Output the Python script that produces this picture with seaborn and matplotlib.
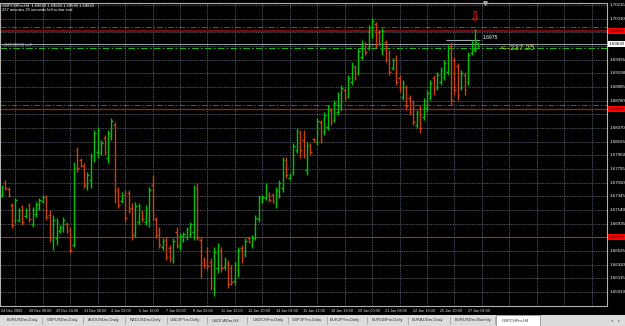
import matplotlib
matplotlib.use("Agg")
import matplotlib.pyplot as plt
import matplotlib.transforms as mtransforms
from matplotlib.patches import Rectangle
from matplotlib.lines import Line2D
import numpy as np
import pandas as pd
import seaborn as sns

# ---------------- data (GBPCHFm, H4) ----------------
bar_open = [1.67365, 1.67560, 1.67455, 1.67215, 1.66975, 1.66990, 1.67185, 1.67050, 1.67215, 1.66930,
            1.67080, 1.67170, 1.67275, 1.67335, 1.67065, 1.66690, 1.66720, 1.66825, 1.66855, 1.66930,
            1.66840, 1.66615, 1.68040, 1.67890, 1.67800, 1.67485, 1.67590, 1.67920, 1.68010, 1.68010,
            1.68220, 1.67920, 1.68250, 1.68415, 1.67440, 1.67275, 1.67365, 1.67395, 1.67170, 1.66795,
            1.66960, 1.67110, 1.66960, 1.66990, 1.67515, 1.67005, 1.66840, 1.66585, 1.66690, 1.66570,
            1.66405, 1.66810, 1.66600, 1.66690, 1.66735, 1.66780, 1.66810, 1.67470, 1.66690, 1.66405,
            1.66510, 1.66360, 1.65970, 1.66270, 1.66540, 1.66285, 1.66345, 1.66270, 1.66075, 1.66240,
            1.66570, 1.66480, 1.66720, 1.66615, 1.66735, 1.67005, 1.67275, 1.67320, 1.67380, 1.67365,
            1.67245, 1.67365, 1.67470, 1.67890, 1.67620, 1.67710, 1.68040, 1.68295, 1.68190, 1.67740,
            1.68115, 1.68205, 1.68160, 1.68460, 1.68310, 1.68385, 1.68640, 1.68490, 1.68610, 1.68685,
            1.68940, 1.68850, 1.69060, 1.69285, 1.69195, 1.69435, 1.69630, 1.69570, 1.69765, 1.69930,
            1.69810, 1.69540, 1.69660, 1.69495, 1.69270, 1.69420, 1.69120, 1.68835, 1.68985, 1.68820,
            1.68745, 1.68415, 1.68670, 1.68535, 1.68670, 1.68835, 1.69120, 1.68970, 1.69060, 1.69135,
            1.69210, 1.69600, 1.69390, 1.69300, 1.68970, 1.69165, 1.69060, 1.69495, 1.69540, 1.69630]
bar_high = [1.67515, 1.67590, 1.67485, 1.67245, 1.67320, 1.67170, 1.67215, 1.67170, 1.67245, 1.67185,
            1.67260, 1.67320, 1.67365, 1.67365, 1.67140, 1.67065, 1.67020, 1.66915, 1.67035, 1.66960,
            1.66885, 1.67860, 1.68085, 1.67920, 1.67845, 1.67710, 1.67995, 1.68340, 1.68385, 1.68190,
            1.68265, 1.68340, 1.68520, 1.68460, 1.67485, 1.67410, 1.67440, 1.67440, 1.67245, 1.67260,
            1.67245, 1.67140, 1.67215, 1.67485, 1.67665, 1.67035, 1.66885, 1.66720, 1.66735, 1.66615,
            1.66720, 1.66885, 1.66795, 1.66810, 1.66885, 1.66960, 1.67515, 1.67545, 1.66735, 1.66435,
            1.66585, 1.66420, 1.66585, 1.66645, 1.66585, 1.66435, 1.66390, 1.66315, 1.66360, 1.66585,
            1.66615, 1.66720, 1.66735, 1.66765, 1.67065, 1.67365, 1.67365, 1.67545, 1.67410, 1.67395,
            1.67485, 1.67590, 1.67935, 1.67935, 1.67695, 1.68145, 1.68370, 1.68340, 1.68340, 1.68160,
            1.68145, 1.68220, 1.68520, 1.68490, 1.68610, 1.68715, 1.68670, 1.68790, 1.68910, 1.69015,
            1.68970, 1.69165, 1.69360, 1.69315, 1.69570, 1.69690, 1.69660, 1.69915, 1.70020, 1.69960,
            1.69840, 1.69870, 1.69690, 1.69540, 1.69420, 1.69465, 1.69165, 1.69090, 1.69015, 1.68865,
            1.68790, 1.68640, 1.68715, 1.68820, 1.68940, 1.69090, 1.69165, 1.69210, 1.69285, 1.69390,
            1.69615, 1.69660, 1.69435, 1.69345, 1.69240, 1.69210, 1.69510, 1.69690, 1.69855, 1.69660]
bar_low = [1.67335, 1.67440, 1.67335, 1.66870, 1.66945, 1.66960, 1.66915, 1.67020, 1.66960, 1.66885,
           1.67035, 1.67140, 1.67245, 1.66990, 1.66660, 1.66540, 1.66615, 1.66795, 1.66810, 1.66795,
           1.66495, 1.66585, 1.67710, 1.67785, 1.67470, 1.67440, 1.67470, 1.67860, 1.67920, 1.67965,
           1.67965, 1.67845, 1.68190, 1.67245, 1.67170, 1.67245, 1.66960, 1.67095, 1.66690, 1.66735,
           1.66915, 1.66960, 1.66915, 1.66885, 1.66990, 1.66720, 1.66570, 1.66540, 1.66390, 1.66360,
           1.66345, 1.66570, 1.66540, 1.66660, 1.66690, 1.66735, 1.66690, 1.66690, 1.66120, 1.66270,
           1.66240, 1.65940, 1.65850, 1.66195, 1.66210, 1.66240, 1.65970, 1.66015, 1.66015, 1.66135,
           1.66345, 1.66435, 1.66645, 1.66570, 1.66690, 1.66960, 1.67245, 1.67290, 1.67260, 1.67245,
           1.67170, 1.67320, 1.67410, 1.67620, 1.67590, 1.67665, 1.67995, 1.67920, 1.67920, 1.67665,
           1.67965, 1.68160, 1.68115, 1.68145, 1.68265, 1.68340, 1.68415, 1.68460, 1.68565, 1.68640,
           1.68790, 1.68820, 1.69015, 1.69090, 1.69165, 1.69390, 1.69465, 1.69540, 1.69720, 1.69570,
           1.69615, 1.69465, 1.69360, 1.69165, 1.69240, 1.69015, 1.68910, 1.68790, 1.68640, 1.68565,
           1.68415, 1.68370, 1.68295, 1.68490, 1.68610, 1.68790, 1.68865, 1.68940, 1.69015, 1.69090,
           1.69165, 1.68715, 1.68865, 1.68790, 1.68940, 1.68865, 1.69015, 1.69465, 1.69510, 1.69590]
bar_close = [1.67485, 1.67470, 1.67365, 1.66915, 1.67290, 1.67140, 1.66960, 1.67140, 1.67005, 1.67155,
             1.67230, 1.67290, 1.67335, 1.67035, 1.66720, 1.66990, 1.66960, 1.66885, 1.66990, 1.66825,
             1.66540, 1.67770, 1.67770, 1.67815, 1.67515, 1.67665, 1.67950, 1.68295, 1.68340, 1.68145,
             1.68010, 1.68295, 1.68475, 1.67440, 1.67215, 1.67365, 1.67020, 1.67140, 1.66765, 1.67200,
             1.67200, 1.67005, 1.67170, 1.67440, 1.67065, 1.66765, 1.66615, 1.66675, 1.66435, 1.66420,
             1.66675, 1.66630, 1.66750, 1.66780, 1.66855, 1.66930, 1.67470, 1.66720, 1.66360, 1.66315,
             1.66300, 1.66015, 1.66510, 1.66600, 1.66270, 1.66390, 1.66030, 1.66060, 1.66315, 1.66540,
             1.66420, 1.66675, 1.66660, 1.66720, 1.67020, 1.67320, 1.67335, 1.67500, 1.67290, 1.67275,
             1.67440, 1.67545, 1.67890, 1.67665, 1.67665, 1.68100, 1.68325, 1.68040, 1.67965, 1.68100,
             1.68010, 1.68175, 1.68475, 1.68190, 1.68565, 1.68670, 1.68460, 1.68745, 1.68865, 1.68970,
             1.68820, 1.69120, 1.69315, 1.69120, 1.69525, 1.69645, 1.69510, 1.69870, 1.69975, 1.69630,
             1.69645, 1.69825, 1.69420, 1.69210, 1.69390, 1.69060, 1.68955, 1.69045, 1.68700, 1.68610,
             1.68460, 1.68610, 1.68370, 1.68790, 1.68895, 1.69045, 1.68940, 1.69165, 1.69240, 1.69345,
             1.69570, 1.68790, 1.68940, 1.68865, 1.69195, 1.68940, 1.69465, 1.69645, 1.69660, 1.69630]

time_labels = ["24 Dec 2009", "28 Dec 08:00", "29 Dec 16:00", "31 Dec 00:00", "4 Jan 08:00",
               "5 Jan 16:00", "7 Jan 00:00", "8 Jan 08:00", "11 Jan 12:00", "12 Jan 20:00",
               "14 Jan 04:00", "15 Jan 12:00", "18 Jan 16:00", "20 Jan 00:00", "21 Jan 08:00",
               "22 Jan 16:00", "25 Jan 20:00", "27 Jan 04:00"]
price_levels = [1.70215, 1.70010, 1.69805, 1.69600, 1.69395, 1.69190, 1.68985, 1.68780, 1.68575,
                1.68370, 1.68165, 1.67960, 1.67755, 1.67550, 1.67345, 1.67140, 1.66935, 1.66730,
                1.66525, 1.66320, 1.66115, 1.65910]
red_levels = [1.69825, 1.68655, 1.66735]
red_dashdot_levels = [1.69885, 1.68715]
bid_price = 1.69630
order_price = 1.69570
marker_price = 1.69690
marker_text = "1.6975"
header_lines = ["GBPCHFm,H4  1.69630 1.69660 1.69590 1.69630",
                "237 minutes 25 seconds left to bar end"]
order_text = "#165(1236) sell"
pips_text = "<--237.25"
tabs = ["EURUSDm,Daily", "GBPUSDm,Daily", "AUDUSDm,Daily", "NZDUSDm,Daily", "USDJPYm,Daily",
        "USDCADm,H4", "USDCHFm,Daily", "GBPJPYm,Daily", "EURJPYm,Daily", "EURGBPm,Daily",
        "EURAUDm,Daily", "EURUSDm,Monthly", "GBPCHFm,H4"]

# ---------------- style ----------------
sns.set_theme(style="dark", rc={"axes.facecolor": "black", "figure.facecolor": "black"})
plt.rcParams["font.family"] = ["Liberation Sans", "DejaVu Sans"]

W, H = 625, 326
fig = plt.figure(figsize=(W / 100, H / 100), dpi=100, facecolor="black")
ax = fig.add_axes([0 / W, (H - 306) / H, 607 / W, (306 - 3) / H])
ax.set_facecolor("black")

df = pd.DataFrame({"open": bar_open, "high": bar_high, "low": bar_low, "close": bar_close})
df["bar"] = np.arange(len(df))
up_col, dn_col = "#00c400", "#c8420e"
cols = [up_col if c >= o else dn_col for o, c in zip(df["open"], df["close"])]

ax.set_xlim(-0.5, 176.5)
ax.set_ylim(1.65700, 1.70245)

# grid
grid_col = "#66717e"
for v in price_levels:
    ax.axhline(v, color=grid_col, lw=0.5, ls=(0, (2, 1.5)), zorder=0)
for b in range(4, 177, 8):
    ax.axvline(b, color=grid_col, lw=0.5, ls=(0, (2, 1.5)), zorder=0)

# level lines
for v in red_dashdot_levels:
    ax.axhline(v, color="#d42020", lw=0.7, ls=(0, (6, 2, 1.5, 2)), zorder=1)
ax.axhline(red_levels[0], color="#7a0c0c", lw=1.4, zorder=1)
ax.axhline(red_levels[1], color="#b01818", lw=0.9, zorder=1)
ax.axhline(red_levels[2], color="#c02020", lw=0.8, zorder=1)
ax.axhline(bid_price, color="#b4bcc4", lw=0.6, zorder=1)
ax.axhline(order_price, color="#20b020", lw=0.8, ls=(0, (6, 2, 1.5, 2)), zorder=1)

# OHLC bars
ax.vlines(df["bar"], df["low"], df["high"], colors=cols, lw=1.0, zorder=3)
ax.hlines(df["open"], df["bar"] - 0.45, df["bar"], colors=cols, lw=1.0, zorder=3)
ax.hlines(df["close"], df["bar"], df["bar"] + 0.45, colors=cols, lw=1.0, zorder=3)

# annotations inside chart
last = len(df) - 1
ax.hlines(marker_price, last - 9.5, last + 0.5, colors="#9aa4ae", lw=0.8, zorder=2)
ax.text(last + 1.3, marker_price + 0.0004, marker_text, color="white", fontsize=3.6,
        va="center", ha="left", zorder=4)
ax.text(last + 6.5, order_price, pips_text, color="#d2d200", fontsize=5.8,
        va="center", ha="left", zorder=4)
ax.text(last - 1, 1.70020, "\u21e9", color="#ff2020", fontsize=9, ha="center",
        va="center", family=["DejaVu Sans"], zorder=4)
ax.plot([last + 2], [1.70245], marker="v", color="#a8a8a8", ms=2.5, clip_on=False, zorder=5)

ax.set_xticks([])
ax.set_yticks([])
for s in ax.spines.values():
    s.set_visible(True)
    s.set_color("#b0b0b0")
    s.set_linewidth(0.8)

# header texts
fig.text(2 / W, 1 - 5.3 / H, header_lines[0], color="white", fontsize=3.0, va="center", ha="left")
fig.text(2 / W, 1 - 10 / H, header_lines[1], color="white", fontsize=3.0, va="center", ha="left")
ax.text(0.2, order_price + 0.00045, "\u25aa" + order_text, color="#c8c8c8", fontsize=3.0,
        va="center", ha="left", family=["Liberation Sans", "DejaVu Sans"], zorder=4)

# right price axis
ytr = mtransforms.blended_transform_factory(fig.transFigure, ax.transData)
specials = red_levels + [bid_price]
for v in price_levels:
    if min(abs(v - s) for s in specials) < 0.0009:
        continue
    ax.text(610 / W, v, f"{v:.5f}", transform=ytr, color="white", fontsize=3.2,
            va="center", ha="left", clip_on=False)
for v in red_levels:
    ax.text(609 / W, v, f"{v:.5f}", transform=ytr, color="#300000", fontsize=3.2,
            va="center", ha="left", clip_on=False,
            bbox=dict(facecolor="#ff0000", edgecolor="none", pad=0.8))
ax.text(609 / W, bid_price, f"{bid_price:.5f}", transform=ytr, color="black", fontsize=3.2,
        va="center", ha="left", clip_on=False,
        bbox=dict(facecolor="white", edgecolor="none", pad=0.8))

# time axis labels
xtr = mtransforms.blended_transform_factory(ax.transData, fig.transFigure)
for k, lab in enumerate(time_labels):
    ax.text(8 * k - 0.1, 1 - 311 / H, lab, transform=xtr, color="#e0e0e0", fontsize=2.7,
            va="center", ha="left", clip_on=False)

# tab bar
fig.patches.append(Rectangle((0, 0), 1, 11.5 / H, transform=fig.transFigure,
                             facecolor="#dcdcdc", edgecolor="none", zorder=0))
tab_x = [7, 47, 88, 130, 170, 212, 253, 292, 330, 372, 412, 455, 502]
sep_x = [42, 83, 125, 167, 207, 247, 288, 327, 367, 408, 450, 495]
fig.patches.append(Rectangle((496 / W, 0), 44 / W, 11.5 / H, transform=fig.transFigure,
                             facecolor="white", edgecolor="#808080", lw=0.5, zorder=1))
for sx in sep_x:
    fig.lines.append(Line2D([sx / W, sx / W], [2 / H, 9.5 / H], transform=fig.transFigure,
                            color="#9a9a9a", lw=0.5))
for tx, name in zip(tab_x, tabs):
    fig.text(tx / W, 5.5 / H, name, color="#303030", fontsize=3.0, va="center", ha="left", zorder=3)
fig.text(612 / W, 5.5 / H, "\u25c2", color="#707070", fontsize=3, va="center", ha="center",
         family=["DejaVu Sans"])
fig.text(619 / W, 5.5 / H, "\u25b8", color="#707070", fontsize=3, va="center", ha="center",
         family=["DejaVu Sans"])

fig.savefig("out.png", dpi=100, facecolor="black")
